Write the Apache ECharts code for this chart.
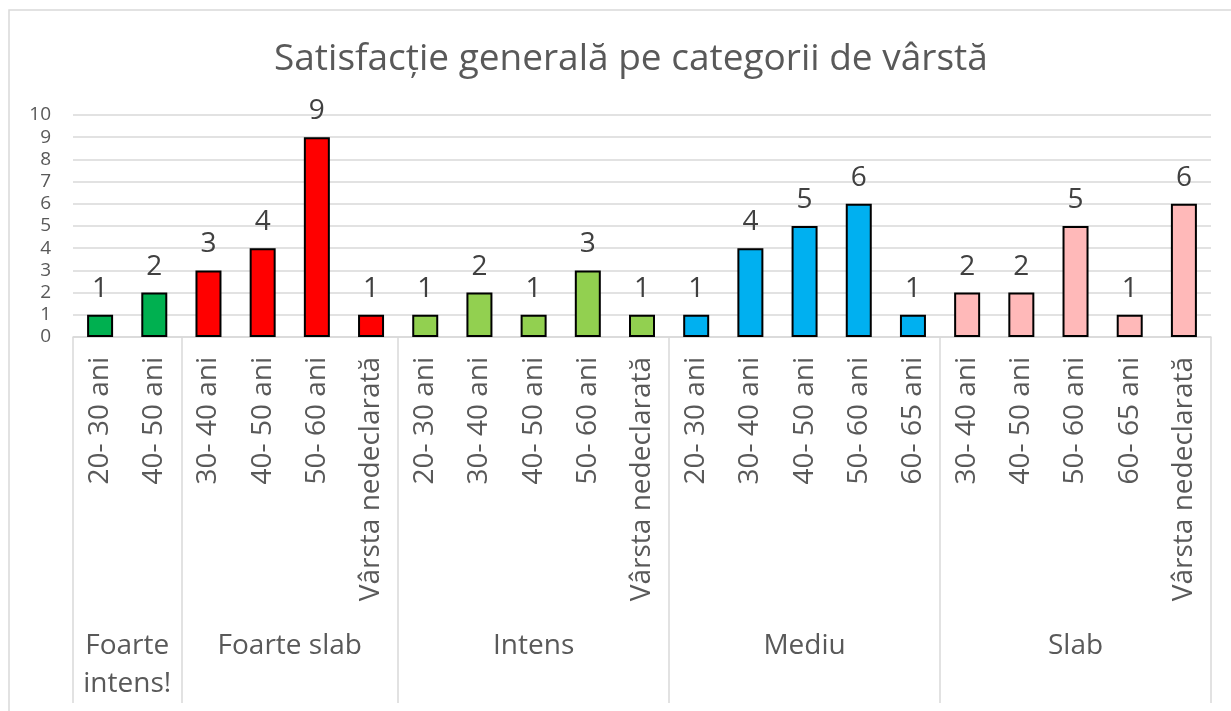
<!DOCTYPE html>
<html>
<head>
<meta charset="utf-8">
<script src="https://cdn.jsdelivr.net/npm/echarts@6/dist/echarts.min.js"></script>
<style>
html,body{margin:0;padding:0;background:#fff;}
#chart{width:1231px;height:711px;}
</style>
</head>
<body>
<div id="chart"></div>
<script>
const titleText = 'Satisfacție generală pe categorii de vârstă';
const groups = ['Foarte\nintens!', 'Foarte slab', 'Intens', 'Mediu', 'Slab'];
const groupSizes = [2, 4, 5, 5, 5];
const groupColors = ['#00B050', '#FF0000', '#92D050', '#00B0F0', '#FFB9B9'];
const ageLabels = [
  '20- 30 ani', '40- 50 ani',
  '30- 40 ani', '40- 50 ani', '50- 60 ani', 'Vârsta nedeclarată',
  '20- 30 ani', '30- 40 ani', '40- 50 ani', '50- 60 ani', 'Vârsta nedeclarată',
  '20- 30 ani', '30- 40 ani', '40- 50 ani', '50- 60 ani', '60- 65 ani',
  '30- 40 ani', '40- 50 ani', '50- 60 ani', '60- 65 ani', 'Vârsta nedeclarată'
];
const values = [1, 2, 3, 4, 9, 1, 1, 2, 1, 3, 1, 1, 4, 5, 6, 1, 2, 2, 5, 1, 6];
const yTicks = { min: 0, max: 10, interval: 1 };

// build helper structures
const barColors = [];
groupSizes.forEach((n, g) => { for (let i = 0; i < n; i++) barColors.push(groupColors[g]); });
const seriesData = values.map((v, i) => ({ value: v, itemStyle: { color: barColors[i] } }));

// second-level axis: half-steps, boundaryGap false
const nHalf = ageLabels.length * 2;
const groupAxisData = new Array(nHalf + 1).fill('');
const boundaries = new Set([0]);
let start = 0;
groupSizes.forEach((n, g) => {
  groupAxisData[2 * start + n] = groups[g];
  start += n;
  boundaries.add(2 * start);
});

const chart = echarts.init(document.getElementById('chart'));
const txt = '#595959';
chart.setOption({
  backgroundColor: '#fff',
  animation: false,
  textStyle: { fontFamily: 'Open Sans' },
  title: {
    text: titleText,
    left: 269,
    top: 36,
    textStyle: { fontFamily: 'Open Sans', fontSize: 37, fontWeight: 'normal', color: txt }
  },
  graphic: [{
    type: 'rect',
    shape: { x: 9, y: 10, width: 1240, height: 720 },
    style: { fill: 'none', stroke: '#d9d9d9', lineWidth: 1.5 },
    silent: true
  }],
  grid: { left: 73, right: 20, top: 115, bottom: 374, containLabel: false },
  xAxis: [{
    type: 'category',
    data: ageLabels,
    gridIndex: 0,
    axisLine: { show: true, lineStyle: { color: '#d9d9d9', width: 1.5 } },
    axisTick: { show: false },
    axisLabel: { interval: 0, rotate: 90, margin: 20, fontSize: 28, color: txt, fontFamily: 'Open Sans' }
  }, {
    type: 'category',
    data: groupAxisData,
    gridIndex: 0,
    position: 'bottom',
    boundaryGap: false,
    axisLine: { show: false },
    axisTick: {
      show: true,
      length: 366,
      interval: (idx) => boundaries.has(idx),
      lineStyle: { color: '#d9d9d9', width: 1.5 }
    },
    axisLabel: {
      interval: (idx, val) => val !== '',
      margin: 290,
      fontSize: 28,
      lineHeight: 38,
      color: txt,
      fontFamily: 'Open Sans',
      align: 'center',
      verticalAlign: 'top'
    }
  }],
  yAxis: {
    type: 'value',
    min: yTicks.min,
    max: yTicks.max,
    interval: yTicks.interval,
    axisLine: { show: false },
    axisTick: { show: false },
    splitLine: { lineStyle: { color: '#d9d9d9', width: 1.5 } },
    axisLabel: { fontSize: 19, color: txt, margin: 22, fontFamily: 'Open Sans' }
  },
  series: [{
    type: 'bar',
    xAxisIndex: 0,
    data: seriesData,
    barWidth: 26,
    itemStyle: { borderColor: '#000', borderWidth: 2 },
    label: {
      show: true,
      position: 'top',
      distance: 12,
      fontSize: 28,
      color: '#404040',
      fontFamily: 'Open Sans'
    }
  }]
});
</script>
</body>
</html>
